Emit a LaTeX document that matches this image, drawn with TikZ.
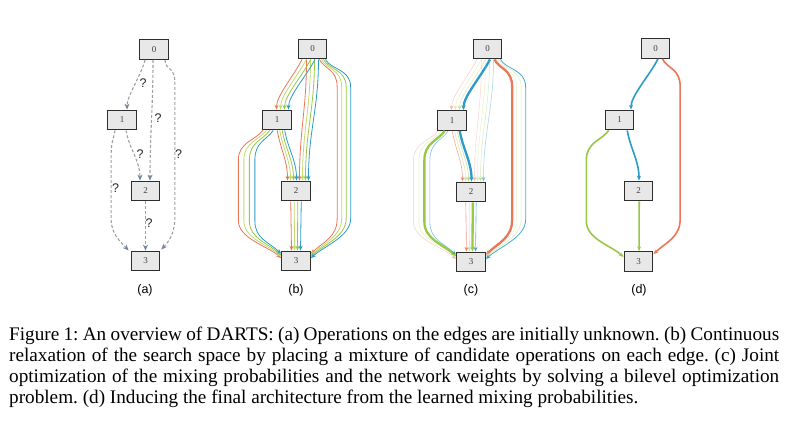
\documentclass[tikz,border=0pt]{standalone}
\usepackage{fontspec}
\setmainfont{Liberation Serif}
\setsansfont{Liberation Sans}
\usetikzlibrary{calc,arrows.meta}

\definecolor{cR}{HTML}{EC765A}
\definecolor{cL}{HTML}{C4DB6E}
\definecolor{cG}{HTML}{98C945}
\definecolor{cB}{HTML}{2B9BC8}
\definecolor{boxfill}{HTML}{E8E8E8}
\definecolor{boxline}{HTML}{2E2E2E}
\definecolor{dashgray}{HTML}{A0A0A0}
\definecolor{tipgray}{HTML}{76869C}

\tikzset{
 opnode/.style={draw=boxline, fill=boxfill, line width=1.3pt, minimum width=28.5pt, minimum height=19.5pt, inner sep=0pt, font=\fontsize{9}{10}\selectfont, text=black!75},
 qlink/.style={draw=dashgray, line width=1.1pt, dash pattern=on 3pt off 2pt, -{Stealth[length=6pt,width=5pt,color=tipgray]}},
 qmark/.style={font=\sffamily\fontsize{12.5}{12.5}\selectfont, text=black!85, inner sep=0pt},
 plabel/.style={font=\sffamily\fontsize{12.5}{14}\selectfont, inner sep=0pt},
 captionline/.style={font=\fontsize{19.2}{21}\selectfont\frenchspacing, anchor=base west, inner sep=0pt},
 mix/.style={-{Stealth[length=4.8pt,width=4pt]}},
}

% 0 -> 1
\newcommand\edgeZO[3]{%
 \pgfmathsetmacro\sx{-4+(#2)*4.3}\pgfmathsetmacro\sc{-12+(#2)*4.3}\pgfmathsetmacro\tx{5.5+(#2)*4}%
 \draw[mix,#3] ($(#10.south)+(\sx,0)$) .. controls ($(#10.south)+(\sc,16)$) and ($(#11.north)+(\tx,-14)$) .. ($(#11.north)+(\tx,0)$);}
% 0 -> 2
\newcommand\edgeZW[3]{%
 \pgfmathsetmacro\sx{(#2)*4}\pgfmathsetmacro\tx{8+(#2)*3}%
 \draw[mix,#3] ($(#10.south)+(\sx,0)$) .. controls ($(#10.south)+(\sx,50)$) and ($(#12.north)+(\tx,-50)$) .. ($(#12.north)+(\tx,0)$);}
% 0 -> 3
\newcommand\edgeZT[3]{%
 \pgfmathsetmacro\px{16.5+(#2)*4.5}\pgfmathsetmacro\sx{-5+(#2)*2}%
 \pgfmathsetmacro\ty{3+((#2)+1.5)*1.5}\pgfmathsetmacro\tc{-9+((#2)+1.5)*1.5}%
 \coordinate (p) at ($(#10.east)+(\px,0)$);
 \coordinate (q1) at ($(p)+(0,38)$);
 \coordinate (q2) at (p |- #13.north);
 \coordinate (q3) at ($(q2)+(0,-32)$);
 \draw[mix,#3] ($(#10.south east)+(\sx,0)$) .. controls ($(#10.south east)+(\sx+5,10)$) and ($(q1)+(0,-18)$) .. (q1) -- (q3) .. controls ($(q3)+(0,18)$) and ($(#13.north east)+(13,\tc)$) .. ($(#13.north east)+(0,\ty)$);}
% 1 -> 2
\newcommand\edgeOW[3]{%
 \pgfmathsetmacro\sx{4+(#2)*2.5}\pgfmathsetmacro\tx{-4+(#2)*3}%
 \draw[mix,#3] ($(#11.south)+(\sx,0)$) .. controls ($(#11.south)+(\sx+3,18)$) and ($(#12.north)+(\tx,-20)$) .. ($(#12.north)+(\tx,0)$);}
% 1 -> 3
\newcommand\edgeOT[3]{%
 \pgfmathsetmacro\px{-15.5+(#2)*5.5}\pgfmathsetmacro\sx{-9+(#2)*3.5}%
 \pgfmathsetmacro\ty{3+(1.5-(#2))*1.5}\pgfmathsetmacro\tc{-9+(1.5-(#2))*1.5}%
 \coordinate (p) at ($(#11.west)+(\px,0)$);
 \coordinate (q1) at ($(p)+(0,40)$);
 \coordinate (q2) at (p |- #13.north);
 \coordinate (q3) at ($(q2)+(0,-30)$);
 \draw[mix,#3] ($(#11.south)+(\sx,0)$) .. controls ($(#11.south)+(\sx-7,10)$) and ($(q1)+(0,-18)$) .. (q1) -- (q3) .. controls ($(q3)+(0,18)$) and ($(#13.north west)+(-13,\tc)$) .. ($(#13.north west)+(0,\ty)$);}
% 2 -> 3
\newcommand\edgeWT[3]{%
 \pgfmathsetmacro\sx{(#2)*3.5}\pgfmathsetmacro\tx{(#2)*3}%
 \draw[mix,#3] ($(#12.south)+(\sx,0)$) -- ($(#13.north)+(\tx,0)$);}

\begin{document}
\begin{tikzpicture}[x=1pt,y=-1pt]
\useasboundingbox (0,0) rectangle (786,420);
\fill[white] (0,0) rectangle (786,420);

% ---------------- panel (a)
\node[opnode] (a0) at (154,49.5) {0};
\node[opnode] (a1) at (122,120) {1};
\node[opnode] (a2) at (145.5,191) {2};
\node[opnode] (a3) at (145.5,261) {3};
\draw[qlink] ($(a0.south)+(-9,0)$) .. controls ($(a0.south)+(-13,16)$) and ($(a1.north)+(5,-14)$) .. ($(a1.north)+(5,0)$);
\draw[qlink] ($(a0.south)+(-1,0)$) .. controls ($(a0.south)+(-1,50)$) and ($(a2.north)+(4.5,-50)$) .. ($(a2.north)+(4.5,0)$);
\coordinate (ap) at ($(a0.east)+(6,0)$);
\coordinate (aq) at (ap |- a3.north);
\draw[qlink] ($(a0.south east)+(-4,0)$) .. controls ($(a0.south east)+(-3,12)$) and ($(ap)+(0,16)$) .. ($(ap)+(0,34)$) -- ($(aq)+(0,-34)$) .. controls ($(aq)+(0,-16)$) and ($(a3.north east)+(8,-9)$) .. ($(a3.north east)+(1,-1)$);
\draw[qlink] ($(a1.south)+(4,0)$) .. controls ($(a1.south)+(7,18)$) and ($(a2.north)+(-5.5,-20)$) .. ($(a2.north)+(-5.5,0)$);
\coordinate (bp) at ($(a1.west)+(4,0)$);
\coordinate (bq) at (bp |- a3.north);
\draw[qlink] ($(a1.south)+(-7,0)$) .. controls ($(a1.south)+(-9,12)$) and ($(bp)+(0,20)$) .. ($(bp)+(0,38)$) -- ($(bq)+(0,-32)$) .. controls ($(bq)+(0,-16)$) and ($(a3.north west)+(-10,-9)$) .. ($(a3.north west)+(-2,0)$);
\draw[qlink] (a2.south) -- (a3.north);
\node[qmark] (qa) at (143,83) {?};
\node[qmark] (qb) at (158,118) {?};
\node[qmark] (qc) at (178.5,154) {?};
\node[qmark] (qd) at (140,154) {?};
\node[qmark] (qe) at (115.5,188) {?};
\node[qmark] (qf) at (149,223) {?};
\node[plabel] (la) at (145,290.5) {(a)};

% ---------------- panel (b)
\node[opnode] (b0) at (312.5,49) {0};
\node[opnode] (b1) at (277,120) {1};
\node[opnode] (b2) at (296,191) {2};
\node[opnode] (b3) at (296,261) {3};
\foreach \k/\c in {-1.5/cR,-0.5/cL,0.5/cG,1.5/cB}{
 \edgeZO{b}{\k}{color=\c,line width=0.8pt}
 \edgeZW{b}{\k}{color=\c,line width=0.8pt}
 \edgeZT{b}{\k}{color=\c,line width=0.8pt}
 \edgeOW{b}{\k}{color=\c,line width=0.8pt}
 \edgeOT{b}{\k}{color=\c,line width=0.8pt}
 \edgeWT{b}{\k}{color=\c,line width=0.8pt}
}
\node[plabel] (lb) at (296,290.5) {(b)};

% ---------------- panel (c)
\node[opnode] (c0) at (487.5,49) {0};
\node[opnode] (c1) at (452,120.5) {1};
\node[opnode] (c2) at (471,192) {2};
\node[opnode] (c3) at (471,262) {3};
\foreach \k/\c/\w/\o in {-1.5/cR/0.5/0.35,-0.5/cL/0.5/0.35,0.5/cG/0.5/0.35,1.5/cB/2.3/1}{
 \edgeZO{c}{\k}{color=\c,line width=\w pt,opacity=\o}}
\foreach \k/\c/\w/\o in {-1.5/cR/0.5/0.3,-0.5/cL/0.5/0.35,0.5/cG/0.5/0.35,1.5/cB/0.5/0.45}{
 \edgeZW{c}{\k}{color=\c,line width=\w pt,opacity=\o}}
\foreach \k/\c/\w/\o in {-1.5/cR/2.3/1,-0.5/cL/0.5/0.35,0.5/cG/0.5/0.35,1.5/cB/0.8/0.85}{
 \edgeZT{c}{\k}{color=\c,line width=\w pt,opacity=\o}}
\foreach \k/\c/\w/\o in {-1.5/cR/0.6/0.6,-0.5/cL/0.6/0.5,0.5/cG/0.6/0.5,1.5/cB/2.3/1}{
 \edgeOW{c}{\k}{color=\c,line width=\w pt,opacity=\o}}
\foreach \k/\c/\w/\o in {-1.5/cR/0.5/0.35,-0.5/cL/0.5/0.4,0.5/cG/2.3/1,1.5/cB/0.6/0.6}{
 \edgeOT{c}{\k}{color=\c,line width=\w pt,opacity=\o}}
\foreach \k/\c/\w/\o in {-1.5/cR/0.6/0.7,-0.5/cL/0.6/0.5,0.5/cG/2.3/1,1.5/cB/0.6/0.7}{
 \edgeWT{c}{\k}{color=\c,line width=\w pt,opacity=\o}}
\node[plabel] (lc) at (471,290.5) {(c)};

% ---------------- panel (d)
\node[opnode] (d0) at (655.5,48.5) {0};
\node[opnode] (d1) at (619.5,120) {1};
\node[opnode] (d2) at (638.5,191) {2};
\node[opnode] (d3) at (638.5,261.5) {3};
\edgeZO{d}{1.5}{color=cB,line width=1.6pt}
\edgeZT{d}{-1.5}{color=cR,line width=1.6pt}
\edgeOW{d}{1.5}{color=cB,line width=1.6pt}
\edgeOT{d}{-0.5}{color=cG,line width=1.6pt}
\edgeWT{d}{0.2}{color=cG,line width=1.6pt}
\node[plabel] (ld) at (639,290.5) {(d)};

% ---------------- caption
\node[captionline] (cap1) at (9,340) {\makebox[770pt][s]{Figure 1: An overview of DARTS: (a) Operations on the edges are initially unknown. (b) Continuous}};
\node[captionline] (cap2) at (9,361) {\makebox[770pt][s]{relaxation of the search space by placing a mixture of candidate operations on each edge. (c) Joint}};
\node[captionline] (cap3) at (9,382) {\makebox[770pt][s]{optimization of the mixing probabilities and the network weights by solving a bilevel optimization}};
\node[captionline] (cap4) at (9,403) {problem. (d) Inducing the final architecture from the learned mixing probabilities.};
\end{tikzpicture}
\end{document}
